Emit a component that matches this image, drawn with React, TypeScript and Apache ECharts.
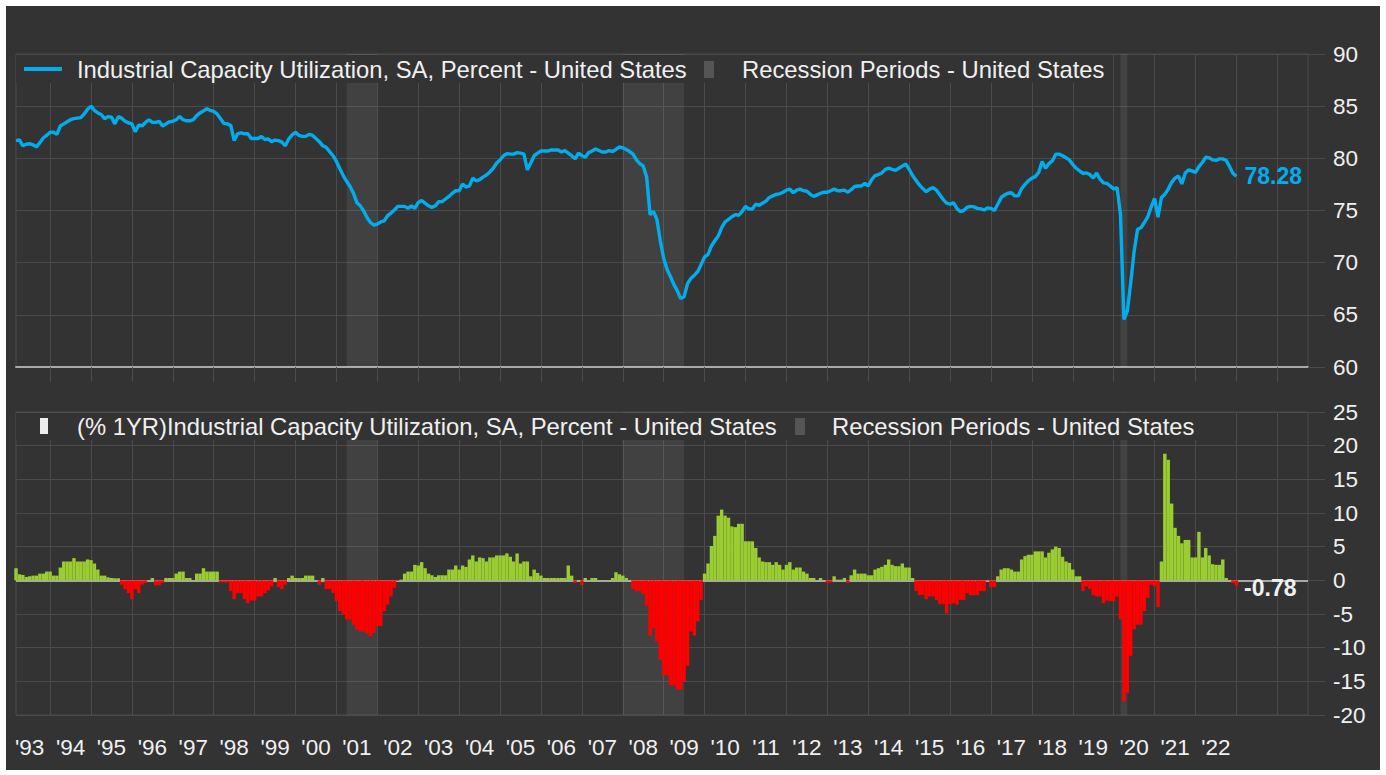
import React, { useEffect, useRef } from 'react';
import * as echarts from 'echarts';

// ---------- data ----------
const FIRST_YEAR = 1993;
const FIRST_MONTH = 3; // first category: Mar 1993
const CATEGORY_COUNT = 380; // through Oct 2024 (axis runs past the data)

const categories: string[] = [];
for (let i = 0; i < CATEGORY_COUNT; i++) {
  const t = FIRST_MONTH - 1 + i;
  const y = FIRST_YEAR + Math.floor(t / 12);
  const m = (t % 12) + 1;
  categories.push(`${y}-${m < 10 ? '0' + m : m}`);
}

// Industrial Capacity Utilization, SA, % (monthly, Mar 1993 - Jan 2023)
const capacityUtilization = [
  81.7, 81.76, 81.2, 81.35, 81.4, 81.3, 81.1, 81.5, 81.95, 82.2,
  82.5, 82.5, 82.3, 83.1, 83.3, 83.5, 83.7, 83.8, 83.85, 83.9, 84.25, 84.7,
  85.0, 84.6, 84.35, 84.2, 83.8, 84.0, 83.95, 83.3, 84.0, 83.85, 83.55, 83.4,
  83.3, 82.55, 83.2, 83.1, 83.45, 83.7, 83.45, 83.45, 83.55, 83.1, 83.3, 83.5,
  83.55, 83.7, 84.0, 83.7, 83.6, 83.6, 83.7, 84.1, 84.35, 84.55, 84.75, 84.6,
  84.5, 84.25, 83.8, 83.35, 83.3, 83.15, 81.7, 82.35, 82.45, 82.35, 82.35, 81.9,
  81.9, 81.9, 82.1, 81.8, 81.85, 81.6, 81.75, 81.7, 81.55, 81.2, 81.85, 82.25,
  82.5, 82.2, 82.1, 82.1, 82.3, 82.2, 81.9, 81.6, 81.2, 81.05, 80.65, 80.25,
  79.7, 79.0, 78.35, 77.8, 77.3, 76.65, 75.75, 75.45, 74.95, 74.3, 73.85, 73.6,
  73.7, 73.9, 74.0, 74.5, 74.75, 75.05, 75.4, 75.4, 75.4, 75.2, 75.45, 75.2,
  75.77, 75.96, 75.7, 75.45, 75.3, 75.45, 75.85, 75.85, 76.1, 76.35, 76.65, 76.9,
  76.9, 77.55, 77.25, 77.35, 78.1, 77.85, 77.95, 78.2, 78.4, 78.7, 79.05, 79.55,
  79.85, 80.25, 80.45, 80.4, 80.4, 80.55, 80.5, 80.4, 78.9, 79.55, 80.25, 80.5,
  80.7, 80.7, 80.7, 80.8, 80.8, 80.8, 80.6, 80.75, 80.5, 80.25, 79.95, 80.5,
  80.25, 80.1, 80.55, 80.7, 80.9, 80.75, 80.6, 80.6, 80.75, 80.65, 80.85, 81.1,
  81.0, 80.85, 80.65, 80.4, 79.85, 79.5, 79.25, 78.2, 74.6, 74.9, 74.15, 72.1,
  70.4, 69.35, 68.65, 67.9, 67.3, 66.55, 66.75, 68.0, 68.5, 68.8, 69.15, 69.85,
  70.55, 70.8, 71.6, 72.1, 72.55, 73.35, 73.9, 74.15, 74.4, 74.6, 74.55, 74.9,
  75.4, 75.15, 75.15, 75.6, 75.5, 75.7, 75.9, 76.25, 76.4, 76.55, 76.6, 76.75,
  76.95, 77.05, 76.7, 76.95, 77.05, 76.9, 76.85, 76.55, 76.35, 76.5, 76.65, 76.75,
  76.75, 76.9, 77.05, 76.9, 76.9, 76.95, 76.75, 77.0, 77.3, 77.35, 77.35, 77.6,
  77.35, 77.95, 78.35, 78.45, 78.6, 78.95, 79.05, 78.95, 78.85, 79.05, 79.25, 79.45,
  78.95, 78.35, 77.9, 77.45, 77.1, 76.8, 77.05, 77.2, 76.95, 76.5, 76.05, 75.7,
  75.6, 75.75, 75.2, 74.9, 75.0, 75.3, 75.4, 75.35, 75.2, 75.15, 75.05, 75.25,
  75.2, 75.0, 75.6, 76.25, 76.5, 76.65, 76.7, 76.4, 76.4, 77.1, 77.5, 77.85,
  78.1, 78.25, 78.65, 79.7, 79.05, 79.5, 79.75, 80.4, 80.4, 80.25, 80.05, 79.85,
  79.4, 79.05, 78.8, 78.55, 78.6, 78.45, 78.1, 78.6, 78.0, 77.65, 77.6, 77.35,
  77.05, 77.2, 74.6, 64.55, 65.35, 68.1, 71.1, 73.2, 73.35, 73.85, 74.4, 75.35,
  76.15, 74.35, 76.25, 76.55, 77.05, 77.7, 78.1, 78.3, 77.55, 78.6, 78.9, 78.8,
  78.65, 79.2, 79.6, 80.1, 80.05, 79.85, 79.8, 79.95, 79.95, 79.8, 79.2, 78.55, 78.28,
];

// (% 1YR) change, monthly, Mar 1993 - Jan 2023
const yearOverYear = [
  1.8, 0.9, 0.8, 0.5, 0.6, 0.7, 0.7, 1.0, 1.0, 1.3,
  1.3, 0.7, 0.7, 1.9, 2.8, 2.8, 2.8, 3.3, 2.8, 2.8, 2.8, 3.1,
  3.0, 2.5, 1.6, 0.7, 0.7, 0.45, 0.35, 0.3, 0.3, -0.65, -1.3, -1.9,
  -2.8, -1.3, -1.9, -0.65, -0.4, 0.05, 0.35, -0.75, -0.75, -0.4, 0.35, 0.35,
  0.35, 1.0, 1.3, 1.3, 0.35, 0.35, 0.05, 1.0, 1.0, 1.8, 1.3, 1.3,
  1.3, 1.3, -0.3, -0.3, -0.3, -1.6, -2.8, -1.9, -1.9, -2.8, -3.4, -3.0,
  -3.0, -2.4, -2.4, -1.9, -1.5, -0.9, 0.35, -1.0, -1.3, -0.65, 0.35, 0.7,
  0.35, 0.35, 0.35, 0.7, 0.7, 0.7, 0.05, -0.65, 0.35, -1.3, -1.3, -1.9,
  -3.1, -4.6, -5.1, -5.8, -5.8, -6.6, -7.3, -7.6, -7.6, -7.9, -8.3, -7.8,
  -6.8, -6.8, -4.6, -3.6, -2.4, -1.1, -0.1, 0.1, 1.0, 1.3, 1.3, 2.3,
  2.2, 2.7, 1.8, 1.0, 0.75, 0.5, 0.75, 0.75, 0.75, 1.6, 1.6, 2.2,
  1.6, 2.2, 2.0, 3.1, 3.7, 2.8, 3.4, 3.3, 2.8, 3.4, 3.4, 3.7,
  3.7, 3.7, 4.0, 3.5, 2.8, 4.0, 2.5, 2.8, 2.8, 0.6, 1.6, 1.1,
  0.7, 0.35, 0.35, 0.35, 0.35, 0.35, 0.35, 0.35, 2.2, 0.7, -0.4, 0.05,
  -0.7, 0.35, 0.05, 0.35, 0.35, 0.05, 0.02, 0.02, 0.05, 0.35, 1.2, 0.9,
  0.7, 0.35, 0.05, -1.3, -1.6, -1.6, -2.0, -3.7, -8.2, -7.1, -9.1, -11.8,
  -14.1, -14.1, -15.6, -15.6, -16.2, -16.2, -15.0, -12.7, -7.6, -8.2, -6.1, -2.9,
  1.0, 2.5, 5.1, 6.6, 9.6, 10.5, 9.6, 9.3, 8.0, 7.9, 8.4, 8.4,
  5.8, 5.8, 5.8, 4.8, 3.4, 2.8, 2.7, 2.7, 2.3, 2.7, 2.3, 1.6,
  2.3, 2.7, 1.6, 1.9, 1.9, 1.3, 1.0, 0.35, 0.35, 0.02, 0.35, 0.02,
  -0.4, -0.3, 0.6, 0.1, 0.1, 0.35, -0.4, 0.75, 1.6, 1.0, 1.0, 1.0,
  0.75, 0.75, 1.6, 1.8, 2.0, 2.3, 3.1, 2.3, 2.1, 2.1, 2.5, 1.9,
  1.9, 0.35, -1.6, -2.2, -2.2, -2.8, -2.4, -2.4, -2.9, -3.5, -3.5, -4.9,
  -3.5, -3.4, -3.6, -2.9, -2.9, -1.9, -2.2, -2.2, -2.2, -1.6, -1.6, -0.05,
  -1.0, -1.0, 0.6, 1.6, 1.8, 1.8, 1.6, 1.3, 1.3, 3.1, 3.6, 3.8,
  3.8, 4.3, 4.3, 4.3, 3.4, 4.1, 4.6, 5.0, 4.8, 3.5, 2.8, 2.6,
  1.6, 0.6, 0.6, -1.6, -0.9, -1.3, -2.2, -2.4, -2.4, -3.4, -3.0, -3.1,
  -3.1, -2.4, -5.8, -18.0, -16.7, -11.2, -7.3, -6.6, -6.6, -4.6, -2.6, -0.65,
  -0.9, -4.0, 2.8, 18.8, 17.9, 11.4, 7.8, 6.6, 5.5, 6.0, 6.0, 3.4,
  3.4, 7.2, 3.4, 4.8, 3.7, 2.4, 2.3, 2.3, 3.1, 0.35, 0.05, -0.4, -0.78,
];

// Recession periods (first month, first month after)
const recessionPeriods: [string, string][] = [
  ['2001-04', '2002-01'],
  ['2008-01', '2009-07'],
  ['2020-03', '2020-05'],
];

const LAST_LABEL_YEAR = 2022;

// ---------- style ----------
const BG = '#333333';
const GRID = '#4b4b4b';
const TEXT = '#f0f0f0';
const BLUE = '#00aeef';
const GREEN = '#9acd32';
const RED = '#ff0000';
const SHADE = 'rgba(255,255,255,0.07)';
const FONT = "'Liberation Sans', Arial, Helvetica, sans-serif";
const AXIS_FS = 22.5;
const LEGEND_FS = 23.8;
const END_FS = 23;

const isJan = (i: number) => !!categories[i] && categories[i].slice(5) === '01';
const isMidYear = (i: number) =>
  !!categories[i] && categories[i].slice(5) === '07' && Number(categories[i].slice(0, 4)) <= LAST_LABEL_YEAR;

function buildOption() {
  const shadeData = recessionPeriods.map(([a, b]) => [
    { xAxis: categories.indexOf(a) },
    { xAxis: categories.indexOf(b) },
  ]);
  const barData = yearOverYear.map((v, i) =>
    i === yearOverYear.length - 1
      ? {
          value: v,
          label: {
            show: true,
            position: 'right',
            distance: 6,
            offset: [0, 5],
            color: TEXT,
            fontWeight: 'bold',
            fontSize: END_FS,
            fontFamily: FONT,
            formatter: (p: any) => Number(p.value).toFixed(2),
          },
        }
      : v,
  );

  const xBase = (gridIndex: number, showLabels: boolean, lineColor: string, lineWidth: number) => ({
    type: 'category',
    gridIndex,
    data: categories,
    boundaryGap: false,
    axisLine: { show: true, lineStyle: { color: lineColor, width: lineWidth } },
    axisTick: { show: true, length: 15, interval: (i: number) => isJan(i), lineStyle: { color: GRID } },
    splitLine: { show: true, interval: (i: number) => isJan(i), lineStyle: { color: GRID, width: 1 } },
    axisLabel: showLabels
      ? {
          show: true,
          interval: (i: number) => isMidYear(i),
          formatter: (v: string) => "'" + v.slice(2, 4),
          color: TEXT,
          fontSize: AXIS_FS,
          fontFamily: FONT,
          margin: 21,
        }
      : { show: false },
  });

  const yBase = (gridIndex: number, min: number, max: number) => ({
    type: 'value',
    gridIndex,
    position: 'right',
    min,
    max,
    interval: 5,
    axisLine: { show: false },
    axisTick: { show: true, length: 17, lineStyle: { color: GRID } },
    axisLabel: { color: TEXT, fontSize: AXIS_FS, fontFamily: FONT, margin: 25 },
    splitLine: { show: true, lineStyle: { color: GRID, width: 1 } },
  });

  const legendText = (x: number, y: number, text: string) => ({
    type: 'text', z: 101, x, y,
    style: { text, fill: TEXT, fontSize: LEGEND_FS, fontFamily: FONT, verticalAlign: 'middle' },
  });

  return {
    animation: false,
    backgroundColor: BG,
    textStyle: { fontFamily: FONT },
    grid: [
      { left: 10, top: 48, width: 1292, height: 313, show: true, borderColor: GRID, borderWidth: 1 },
      { left: 10, top: 406, width: 1292, height: 303, show: true, borderColor: GRID, borderWidth: 1 },
    ],
    xAxis: [xBase(0, false, '#a9a9a9', 2), xBase(1, true, GRID, 1)],
    yAxis: [yBase(0, 60, 90), yBase(1, -20, 25)],
    series: [
      {
        type: 'line',
        name: 'Industrial Capacity Utilization, SA, Percent - United States',
        xAxisIndex: 0,
        yAxisIndex: 0,
        data: capacityUtilization,
        showSymbol: false,
        lineStyle: { color: BLUE, width: 3.4 },
        itemStyle: { color: BLUE },
        z: 5,
        endLabel: {
          show: true,
          distance: 8,
          color: BLUE,
          fontWeight: 'bold',
          fontSize: END_FS,
          fontFamily: FONT,
          formatter: (p: any) => Number(p.value).toFixed(2),
        },
        markArea: { silent: true, itemStyle: { color: SHADE }, data: shadeData },
      },
      {
        type: 'line',
        name: 'Recession Periods - United States',
        xAxisIndex: 1,
        yAxisIndex: 1,
        data: [],
        showSymbol: false,
        z: 1,
        markArea: { silent: true, itemStyle: { color: SHADE }, data: shadeData },
      },
      {
        type: 'bar',
        name: '(% 1YR)Industrial Capacity Utilization, SA, Percent - United States',
        xAxisIndex: 1,
        yAxisIndex: 1,
        data: barData,
        barCategoryGap: '0%',
        itemStyle: { color: (p: any) => (Number(p.value) >= 0 ? GREEN : RED) },
        z: 5,
        markLine: {
          silent: true,
          symbol: 'none',
          label: { show: false },
          lineStyle: { color: '#a8a8a8', width: 2, type: 'solid' },
          data: [{ yAxis: 0 }],
        },
      },
    ],
    graphic: [
      // top legend
      { type: 'rect', z: 100, shape: { x: 10, y: 49, width: 1094, height: 28 }, style: { fill: BG } },
      { type: 'rect', z: 101, shape: { x: 18, y: 61, width: 38, height: 4 }, style: { fill: BLUE } },
      legendText(71, 63, 'Industrial Capacity Utilization, SA, Percent - United States'),
      { type: 'rect', z: 101, shape: { x: 698, y: 55, width: 10, height: 17 }, style: { fill: '#555555' } },
      legendText(736, 63, 'Recession Periods - United States'),
      // bottom legend
      { type: 'rect', z: 100, shape: { x: 10, y: 407, width: 1180, height: 27 }, style: { fill: BG } },
      { type: 'rect', z: 101, shape: { x: 34, y: 412, width: 8, height: 16 }, style: { fill: '#eeeeee' } },
      legendText(71, 420, '(% 1YR)Industrial Capacity Utilization, SA, Percent - United States'),
      { type: 'rect', z: 101, shape: { x: 789, y: 412, width: 10, height: 17 }, style: { fill: '#555555' } },
      legendText(826, 420, 'Recession Periods - United States'),
    ],
  };
}

export default function App() {
  const ref = useRef<HTMLDivElement>(null);
  useEffect(() => {
    if (!ref.current) return;
    const chart = echarts.init(ref.current, null, { renderer: 'svg' });
    chart.setOption(buildOption() as any);
    return () => chart.dispose();
  }, []);
  return (
    <div
      ref={ref}
      style={{ position: 'absolute', left: 6, top: 6, width: 1374, height: 764 }}
    />
  );
}
